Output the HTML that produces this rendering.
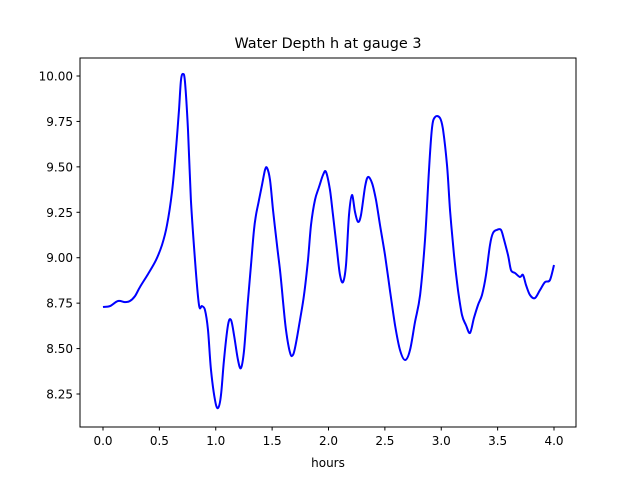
<!DOCTYPE html>
<html><head><meta charset="utf-8"><style>body{margin:0;background:#fff}svg{display:block;font-family:"DejaVu Sans","Liberation Sans",sans-serif}</style></head>
<body>
<svg id="chart" width="640" height="480">
<rect width="640" height="480" fill="#fff"/>
<text x="328" y="48" text-anchor="middle" font-size="14.4">Water Depth h at gauge 3</text>
<g id="ticks"></g>
<path id="line" fill="none" stroke="#0000ff" stroke-width="2" stroke-linejoin="round"/>
<rect x="80" y="58" width="496" height="369" fill="none" stroke="#000" stroke-width="1"/>
<text x="328" y="467" text-anchor="middle" font-size="12">hours</text>
</svg>
<script>
const times=[0,.062,.133,.195,.239,.284,.328,.399,.470,.523,.568,.612,.647,.674,.692,.710,.727,.754,.780,.816,.851,.878,.905,.931,.958,.993,1.020,1.047,1.073,1.109,1.135,1.162,1.197,1.224,1.251,1.286,1.313,1.339,1.357,1.384,1.410,1.437,1.455,1.481,1.508,1.543,1.570,1.596,1.623,1.659,1.685,1.712,1.747,1.783,1.818,1.845,1.880,1.916,1.951,1.978,2.013,2.040,2.075,2.102,2.129,2.155,2.182,2.208,2.235,2.262,2.288,2.324,2.350,2.386,2.421,2.457,2.501,2.545,2.590,2.634,2.679,2.723,2.767,2.812,2.856,2.891,2.918,2.945,2.989,3.016,3.051,3.078,3.113,3.149,3.184,3.219,3.255,3.290,3.326,3.361,3.397,3.432,3.459,3.494,3.530,3.557,3.592,3.619,3.654,3.698,3.725,3.752,3.787,3.831,3.876,3.920,3.964,4.0];
const depths=[8.729,8.734,8.762,8.756,8.762,8.789,8.839,8.910,8.987,9.070,9.180,9.362,9.593,9.813,9.978,10.011,9.967,9.703,9.318,8.987,8.740,8.734,8.712,8.602,8.382,8.217,8.173,8.245,8.437,8.630,8.657,8.575,8.437,8.393,8.492,8.767,8.960,9.153,9.235,9.318,9.400,9.483,9.494,9.428,9.263,9.070,8.932,8.767,8.602,8.476,8.465,8.531,8.657,8.795,8.987,9.180,9.318,9.389,9.455,9.472,9.373,9.235,9.042,8.905,8.866,8.960,9.235,9.345,9.252,9.197,9.235,9.389,9.444,9.411,9.318,9.180,9.015,8.822,8.630,8.492,8.437,8.492,8.646,8.795,9.098,9.483,9.714,9.774,9.769,9.703,9.510,9.263,9.015,8.822,8.685,8.630,8.586,8.668,8.740,8.795,8.905,9.070,9.136,9.153,9.153,9.098,9.015,8.932,8.916,8.894,8.905,8.850,8.795,8.778,8.822,8.866,8.877,8.960];
const xTicks=[0,0.5,1,1.5,2,2.5,3,3.5,4];
const xTickLabels=["0.0","0.5","1.0","1.5","2.0","2.5","3.0","3.5","4.0"];
const yTicks=[8.25,8.5,8.75,9,9.25,9.5,9.75,10];
const yTickLabels=["8.25","8.50","8.75","9.00","9.25","9.50","9.75","10.00"];
const X=t=>103+t*112.75;
const Y=h=>76+(10-h)*181.72;
const NS="http://www.w3.org/2000/svg";
const g=document.getElementById('ticks');
function mk(tag,attrs){const e=document.createElementNS(NS,tag);for(const k in attrs)e.setAttribute(k,attrs[k]);g.appendChild(e);return e;}
xTicks.forEach((t,i)=>{
 const l=mk('line',{x1:X(t),x2:X(t),y1:427,y2:430.5,stroke:'#000'});
 
 
 const tx=mk('text',{x:X(t),y:445,'text-anchor':'middle','font-size':12});
 tx.textContent=xTickLabels[i];
 
 
});
yTicks.forEach((v,i)=>{
 const l=mk('line',{x1:76.5,x2:80,y1:Y(v),y2:Y(v),stroke:'#000'});
 
 
 const tx=mk('text',{x:73,y:Y(v)+4.5,'text-anchor':'end','font-size':12});
 tx.textContent=yTickLabels[i];
 
 
});
const P=times.map((t,i)=>[X(t),Y(depths[i])]);
let d='M'+P[0][0].toFixed(1)+','+P[0][1].toFixed(1);
for(let i=0;i<P.length-1;i++){
 const p0=P[Math.max(0,i-1)],p1=P[i],p2=P[i+1],p3=P[Math.min(P.length-1,i+2)];
 const c1x=p1[0]+(p2[0]-p0[0])/6,c1y=p1[1]+(p2[1]-p0[1])/6;
 const c2x=p2[0]-(p3[0]-p1[0])/6,c2y=p2[1]-(p3[1]-p1[1])/6;
 d+=' C'+c1x.toFixed(1)+','+c1y.toFixed(1)+' '+c2x.toFixed(1)+','+c2y.toFixed(1)+' '+p2[0].toFixed(1)+','+p2[1].toFixed(1);
}
document.getElementById('line').setAttribute('d',d);
</script>
</body></html>
